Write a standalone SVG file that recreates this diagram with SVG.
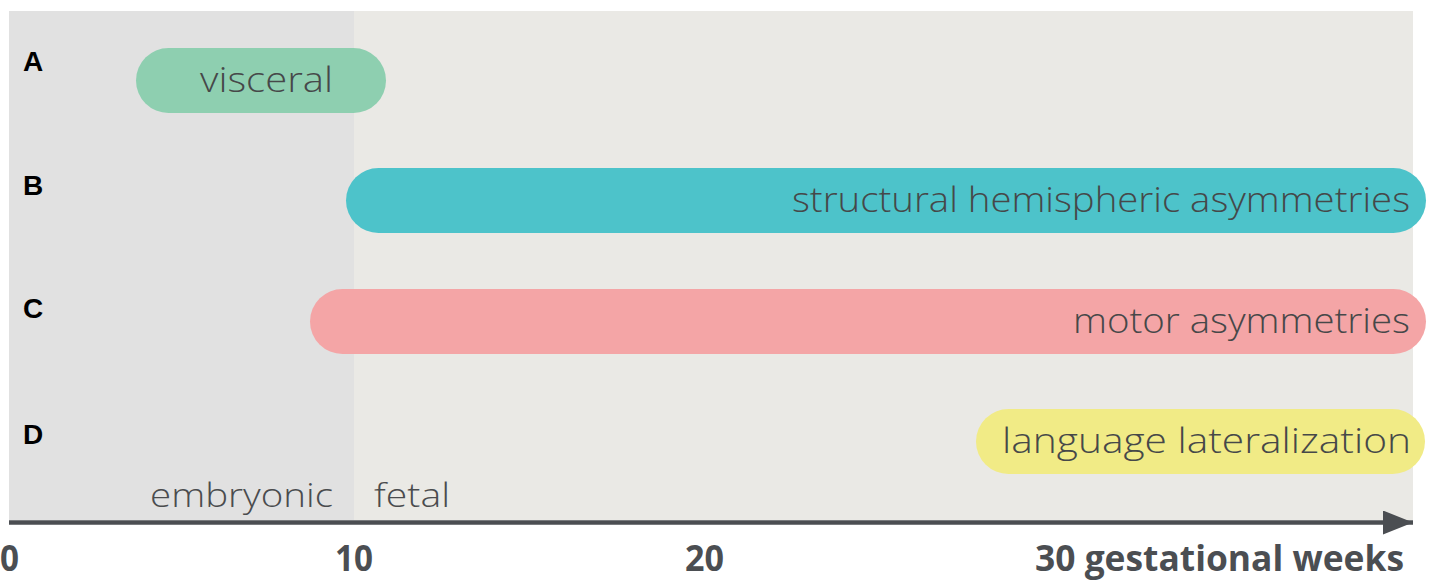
<svg xmlns="http://www.w3.org/2000/svg" width="1434" height="580" viewBox="0 0 1434 580">
  <style>
    .pilltxt { font-family: "Open Sans", "Liberation Sans", sans-serif; font-weight: 300; font-size: 34px; fill: #464849; }
    .row { font-family: "Liberation Sans", Arial, sans-serif; font-weight: bold; font-size: 28px; fill: #000; }
    .axis { font-family: "Open Sans", "Liberation Sans", sans-serif; font-weight: bold; font-size: 36px; fill: #4B4E52; }
    .phase { font-family: "Open Sans", "Liberation Sans", sans-serif; font-weight: 300; font-size: 33px; fill: #4a4c4e; }
  </style>
  <defs>
    <marker id="arrow" markerWidth="30" markerHeight="24" refX="30" refY="12" orient="auto" markerUnits="userSpaceOnUse">
      <path d="M0,0 L30,12 L0,24 Z" fill="#4B4E52"/>
    </marker>
  </defs>
  <rect width="1434" height="580" fill="#ffffff"/>
  <g id="background">
    <rect x="9" y="11" width="345" height="509" fill="#E1E1E1"/>
    <rect x="354" y="11" width="1059" height="509" fill="#EAE9E5"/>
  </g>
  <g id="phases">
    <text class="phase" x="150" y="507" textLength="183" lengthAdjust="spacingAndGlyphs">embryonic</text>
    <text class="phase" x="374" y="507" textLength="76" lengthAdjust="spacingAndGlyphs">fetal</text>
  </g>
  <g id="rowlabels">
    <text class="row" x="23" y="71">A</text>
    <text class="row" x="23" y="195">B</text>
    <text class="row" x="23" y="318">C</text>
    <text class="row" x="23" y="444">D</text>
  </g>
  <g id="nodeA">
    <rect x="136" y="48" width="250" height="65" rx="32.5" fill="#8ECFB0"/>
    <text class="pilltxt" x="200" y="92" textLength="133" lengthAdjust="spacingAndGlyphs">visceral</text>
  </g>
  <g id="nodeB">
    <rect x="346" y="168" width="1080" height="65" rx="32.5" fill="#4DC3CA"/>
    <text class="pilltxt" x="792" y="212" textLength="618" lengthAdjust="spacingAndGlyphs">structural hemispheric asymmetries</text>
  </g>
  <g id="nodeC">
    <rect x="310" y="289" width="1116" height="65" rx="32.5" fill="#F4A5A6"/>
    <text class="pilltxt" x="1073" y="333" textLength="337" lengthAdjust="spacingAndGlyphs">motor asymmetries</text>
  </g>
  <g id="nodeD">
    <rect x="976" y="409" width="449" height="65" rx="32.5" fill="#F1EB86"/>
    <text class="pilltxt" x="1002" y="453" textLength="409" lengthAdjust="spacingAndGlyphs">language lateralization</text>
  </g>
  <g id="connectors">
    <line x1="9" y1="522.5" x2="1413" y2="522.5" stroke="#4B4E52" stroke-width="4.5" marker-end="url(#arrow)"/>
  </g>
  <g id="axislabels">
    <text class="axis" x="0" y="571" textLength="19" lengthAdjust="spacingAndGlyphs">0</text>
    <text class="axis" x="335" y="571" textLength="38" lengthAdjust="spacingAndGlyphs">10</text>
    <text class="axis" x="685" y="571" textLength="39" lengthAdjust="spacingAndGlyphs">20</text>
    <text class="axis" x="1035" y="571" textLength="369" lengthAdjust="spacingAndGlyphs">30 gestational weeks</text>
  </g>
</svg>
